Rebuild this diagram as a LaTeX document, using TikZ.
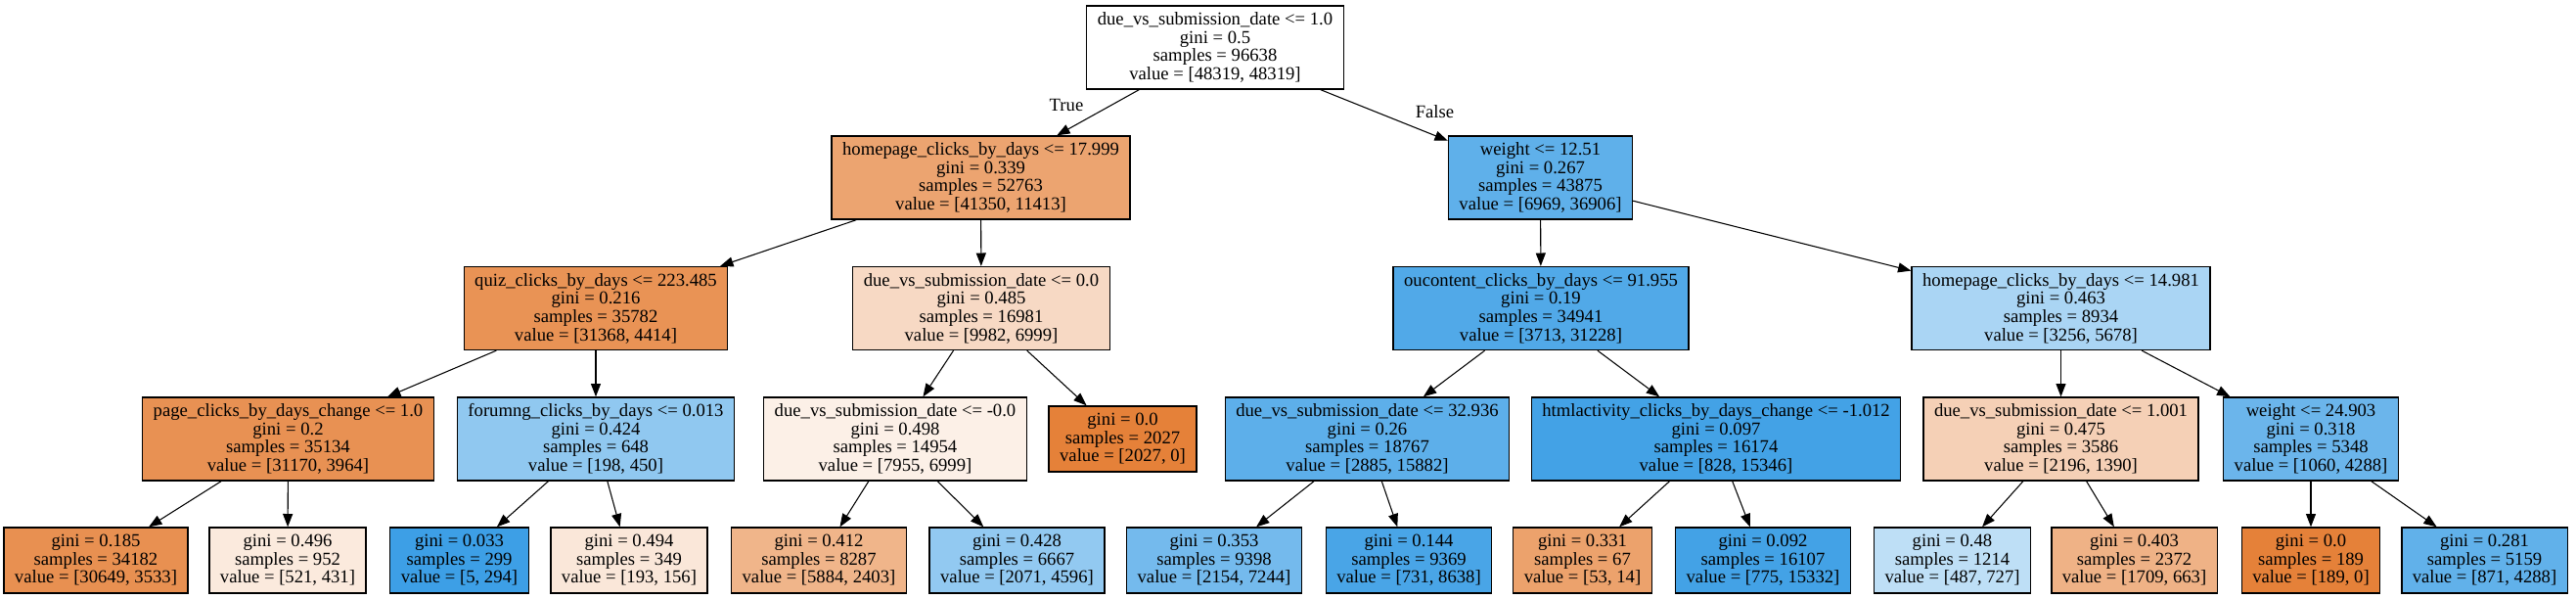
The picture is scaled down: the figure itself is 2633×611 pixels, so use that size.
\documentclass[tikz,border=0pt]{standalone}
\usepackage{fontspec}
\setmainfont{Liberation Serif}
\usetikzlibrary{arrows.meta,positioning}
\definecolor{dtorange}{RGB}{229,129,57}
\definecolor{dtblue}{RGB}{57,157,229}
\tikzset{
    splitbox/.style={draw=black, line width=1pt, align=center, font=\fontsize{14}{14}\selectfont,
        inner xsep=8.25pt, inner ysep=0pt, minimum height=63.75pt},
    leafbox/.style={splitbox, minimum height=50.25pt},
    treeedge/.style={draw=black, line width=0.8pt, -{Triangle[length=10pt,width=7.5pt]}},
    edgelabel/.style={font=\fontsize{14}{14}\selectfont, inner sep=0pt}
}

\begin{document}
\begin{tikzpicture}[x=0.75pt,y=-0.75pt]
    % Canvas (pixel grid of the tree export)
    \fill[white] (0,0) rectangle (2633,611);

    % Root
    \node[splitbox, fill=white] (root) at (1242,48.5) {due\_vs\_submission\_date <= 1.0\\gini = 0.5\\samples = 96638\\value = [48319, 48319]};

    % Depth 1
    \node[splitbox, fill=dtorange!72] (hpA) at (1002.5,181.5) {homepage\_clicks\_by\_days <= 17.999\\gini = 0.339\\samples = 52763\\value = [41350, 11413]};
    \node[splitbox, fill=dtblue!81] (wA) at (1574.5,181.5) {weight <= 12.51\\gini = 0.267\\samples = 43875\\value = [6969, 36906]};

    % Depth 2
    \node[splitbox, fill=dtorange!86] (quiz) at (609,315) {quiz\_clicks\_by\_days <= 223.485\\gini = 0.216\\samples = 35782\\value = [31368, 4414]};
    \node[splitbox, fill=dtorange!30] (dueA) at (1003,315) {due\_vs\_submission\_date <= 0.0\\gini = 0.485\\samples = 16981\\value = [9982, 6999]};
    \node[splitbox, fill=dtblue!88] (ouc) at (1575,315) {oucontent\_clicks\_by\_days <= 91.955\\gini = 0.19\\samples = 34941\\value = [3713, 31228]};
    \node[splitbox, fill=dtblue!43] (hpB) at (2106.5,315) {homepage\_clicks\_by\_days <= 14.981\\gini = 0.463\\samples = 8934\\value = [3256, 5678]};

    % Depth 3
    \node[splitbox, fill=dtorange!87] (page) at (294.5,448.5) {page\_clicks\_by\_days\_change <= 1.0\\gini = 0.2\\samples = 35134\\value = [31170, 3964]};
    \node[splitbox, fill=dtblue!56] (forum) at (609,448.5) {forumng\_clicks\_by\_days <= 0.013\\gini = 0.424\\samples = 648\\value = [198, 450]};
    \node[splitbox, fill=dtorange!12] (dueB) at (915,448.5) {due\_vs\_submission\_date <= -0.0\\gini = 0.498\\samples = 14954\\value = [7955, 6999]};
    \node[leafbox, fill=dtorange] (leafA) at (1147.5,448.5) {gini = 0.0\\samples = 2027\\value = [2027, 0]};
    \node[splitbox, fill=dtblue!82] (dueC) at (1397.5,448.5) {due\_vs\_submission\_date <= 32.936\\gini = 0.26\\samples = 18767\\value = [2885, 15882]};
    \node[splitbox, fill=dtblue!95] (html) at (1754,448.5) {htmlactivity\_clicks\_by\_days\_change <= -1.012\\gini = 0.097\\samples = 16174\\value = [828, 15346]};
    \node[splitbox, fill=dtorange!37] (dueD) at (2106.5,448.5) {due\_vs\_submission\_date <= 1.001\\gini = 0.475\\samples = 3586\\value = [2196, 1390]};
    \node[splitbox, fill=dtblue!75] (wB) at (2362,448.5) {weight <= 24.903\\gini = 0.318\\samples = 5348\\value = [1060, 4288]};

    % Leaves
    \node[leafbox, fill=dtorange!88] (leafB) at (98,572.5) {gini = 0.185\\samples = 34182\\value = [30649, 3533]};
    \node[leafbox, fill=dtorange!17] (leafC) at (294,572.5) {gini = 0.496\\samples = 952\\value = [521, 431]};
    \node[leafbox, fill=dtblue!98] (leafD) at (469.5,572.5) {gini = 0.033\\samples = 299\\value = [5, 294]};
    \node[leafbox, fill=dtorange!19] (leafE) at (643,572.5) {gini = 0.494\\samples = 349\\value = [193, 156]};
    \node[leafbox, fill=dtorange!59] (leafF) at (837,572.5) {gini = 0.412\\samples = 8287\\value = [5884, 2403]};
    \node[leafbox, fill=dtblue!55] (leafG) at (1039.5,572.5) {gini = 0.428\\samples = 6667\\value = [2071, 4596]};
    \node[leafbox, fill=dtblue!70] (leafH) at (1241,572.5) {gini = 0.353\\samples = 9398\\value = [2154, 7244]};
    \node[leafbox, fill=dtblue!92] (leafI) at (1440,572.5) {gini = 0.144\\samples = 9369\\value = [731, 8638]};
    \node[leafbox, fill=dtorange!74] (leafJ) at (1617.5,572.5) {gini = 0.331\\samples = 67\\value = [53, 14]};
    \node[leafbox, fill=dtblue!95] (leafK) at (1802,572.5) {gini = 0.092\\samples = 16107\\value = [775, 15332]};
    \node[leafbox, fill=dtblue!33] (leafL) at (1995.5,572.5) {gini = 0.48\\samples = 1214\\value = [487, 727]};
    \node[leafbox, fill=dtorange!61] (leafM) at (2181.5,572.5) {gini = 0.403\\samples = 2372\\value = [1709, 663]};
    \node[leafbox, fill=dtorange] (leafN) at (2362,572.5) {gini = 0.0\\samples = 189\\value = [189, 0]};
    \node[leafbox, fill=dtblue!80] (leafO) at (2539.5,572.5) {gini = 0.281\\samples = 5159\\value = [871, 4288]};

    % Edges
    \draw[treeedge] (root) -- (hpA); \draw[treeedge] (root) -- (wA);
    \draw[treeedge] (hpA) -- (quiz); \draw[treeedge] (hpA) -- (dueA);
    \draw[treeedge] (wA) -- (ouc); \draw[treeedge] (wA) -- (hpB);
    \draw[treeedge] (quiz) -- (page); \draw[treeedge] (quiz) -- (forum);
    \draw[treeedge] (dueA) -- (dueB); \draw[treeedge] (dueA) -- (leafA);
    \draw[treeedge] (ouc) -- (dueC); \draw[treeedge] (ouc) -- (html);
    \draw[treeedge] (hpB) -- (dueD); \draw[treeedge] (hpB) -- (wB);
    \draw[treeedge] (page) -- (leafB); \draw[treeedge] (page) -- (leafC);
    \draw[treeedge] (forum) -- (leafD); \draw[treeedge] (forum) -- (leafE);
    \draw[treeedge] (dueB) -- (leafF); \draw[treeedge] (dueB) -- (leafG);
    \draw[treeedge] (dueC) -- (leafH); \draw[treeedge] (dueC) -- (leafI);
    \draw[treeedge] (html) -- (leafJ); \draw[treeedge] (html) -- (leafK);
    \draw[treeedge] (dueD) -- (leafL); \draw[treeedge] (dueD) -- (leafM);
    \draw[treeedge] (wB) -- (leafN); \draw[treeedge] (wB) -- (leafO);

    % Branch labels
    \node[edgelabel] (lbltrue) at (1090,107) {True};
    \node[edgelabel] (lblfalse) at (1466.5,114.5) {False};
\end{tikzpicture}
\end{document}
